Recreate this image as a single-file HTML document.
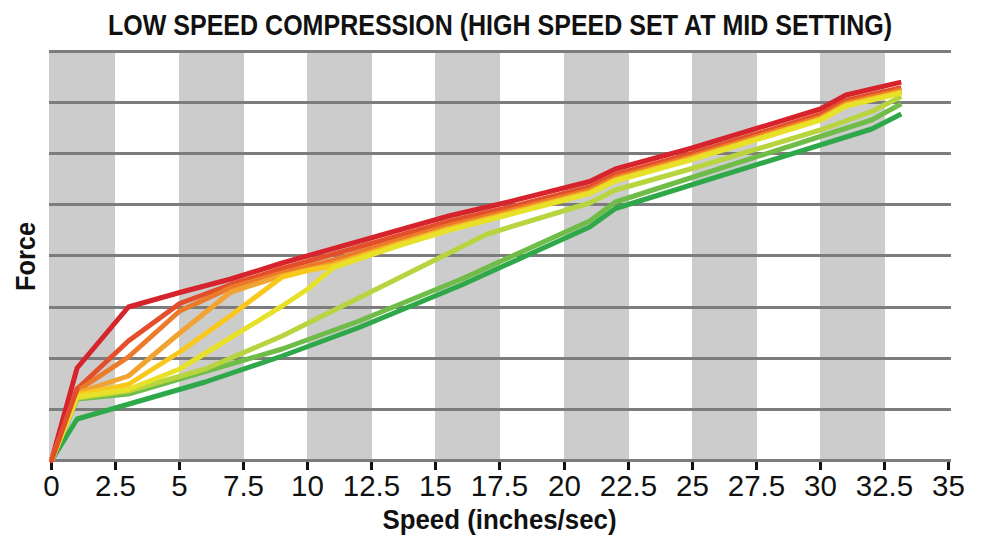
<!DOCTYPE html>
<html><head><meta charset="utf-8"><style>
html,body{margin:0;padding:0;background:#fff;}
svg{display:block;}
text{font-family:"Liberation Sans",sans-serif;fill:#111;}
.tk{font-size:29.5px;}
.ttl{font-size:30px;font-weight:bold;}
.ax{font-size:28px;font-weight:bold;}
</style></head><body>
<svg width="1000" height="540" viewBox="0 0 1000 540">
<rect width="1000" height="540" fill="#fff"/>
<rect x="49.0" y="52" width="66.0" height="408" fill="#cccccc"/>
<rect x="179.0" y="52" width="65.0" height="408" fill="#cccccc"/>
<rect x="307.0" y="52" width="65.0" height="408" fill="#cccccc"/>
<rect x="435.0" y="52" width="65.0" height="408" fill="#cccccc"/>
<rect x="564.0" y="52" width="65.0" height="408" fill="#cccccc"/>
<rect x="692.0" y="52" width="65.0" height="408" fill="#cccccc"/>
<rect x="820.0" y="52" width="65.0" height="408" fill="#cccccc"/>
<rect x="49" y="50.0" width="902" height="3" fill="#7c7c7c"/>
<rect x="49" y="101.0" width="902" height="3" fill="#7c7c7c"/>
<rect x="49" y="152.0" width="902" height="3" fill="#7c7c7c"/>
<rect x="49" y="203.0" width="902" height="3" fill="#7c7c7c"/>
<rect x="49" y="254.0" width="902" height="3" fill="#7c7c7c"/>
<rect x="49" y="306.0" width="902" height="3" fill="#7c7c7c"/>
<rect x="49" y="357.0" width="902" height="3" fill="#7c7c7c"/>
<rect x="49" y="408.0" width="902" height="3" fill="#7c7c7c"/>
<rect x="49" y="459.0" width="902" height="3" fill="#7c7c7c"/>
<rect x="50.0" y="462" width="3" height="8" fill="#111"/>
<rect x="114.0" y="462" width="3" height="8" fill="#111"/>
<rect x="178.0" y="462" width="3" height="8" fill="#111"/>
<rect x="242.0" y="462" width="3" height="8" fill="#111"/>
<rect x="306.0" y="462" width="3" height="8" fill="#111"/>
<rect x="370.0" y="462" width="3" height="8" fill="#111"/>
<rect x="434.0" y="462" width="3" height="8" fill="#111"/>
<rect x="498.0" y="462" width="3" height="8" fill="#111"/>
<rect x="563.0" y="462" width="3" height="8" fill="#111"/>
<rect x="627.0" y="462" width="3" height="8" fill="#111"/>
<rect x="691.0" y="462" width="3" height="8" fill="#111"/>
<rect x="755.0" y="462" width="3" height="8" fill="#111"/>
<rect x="819.0" y="462" width="3" height="8" fill="#111"/>
<rect x="883.0" y="462" width="3" height="8" fill="#111"/>
<rect x="947.0" y="462" width="3" height="8" fill="#111"/>
<path d="M51.5,460.5 L77.1,419.0 L205.3,382.0 L282.2,356.0 L359.1,327.5 L461.6,285.0 L589.7,227.0 L615.4,208.5 L871.7,129.0 L901.3,114.0" fill="none" stroke="#2fa84a" stroke-width="5" stroke-linejoin="round"/>
<path d="M51.5,460.5 L77.1,399.0 L128.4,394.0 L282.2,349.0 L359.1,321.0 L461.6,279.0 L589.7,221.0 L615.4,202.0 L871.7,120.0 L901.3,103.8" fill="none" stroke="#70bc48" stroke-width="5" stroke-linejoin="round"/>
<path d="M51.5,460.5 L77.1,398.0 L128.4,391.0 L205.3,369.0 L282.2,336.0 L487.2,234.0 L589.7,203.0 L615.4,190.0 L692.2,168.5 L820.4,130.0 L871.7,111.5 L901.3,96.5" fill="none" stroke="#b8d43f" stroke-width="5" stroke-linejoin="round"/>
<path d="M51.5,460.5 L77.1,368.0 L128.4,307.0 L179.7,292.5 L230.9,279.0 L282.2,263.0 L397.5,230.5 L448.8,216.0 L500.0,204.0 L589.7,181.5 L615.4,169.0 L692.2,148.0 L820.4,109.0 L846.0,95.0 L901.3,82.1" fill="none" stroke="#d7232b" stroke-width="5" stroke-linejoin="round"/>
<path d="M51.5,460.5 L77.1,389.0 L128.4,341.0 L179.7,303.5 L230.9,284.5 L282.2,268.5 L333.4,254.1 L359.1,246.8 L397.5,236.0 L448.8,221.5 L500.0,209.5 L589.7,187.0 L615.4,174.5 L692.2,153.5 L820.4,114.5 L846.0,100.5 L901.3,87.6" fill="none" stroke="#e34e2b" stroke-width="5" stroke-linejoin="round"/>
<path d="M51.5,460.5 L77.1,391.0 L128.4,357.0 L179.7,311.0 L230.9,287.4 L282.2,272.8 L333.4,260.1 L359.1,252.2 L397.5,240.5 L448.8,225.5 L500.0,212.9 L589.7,190.0 L615.4,177.4 L692.2,156.2 L820.4,117.1 L846.0,103.0 L901.3,90.0" fill="none" stroke="#eb7a2a" stroke-width="5" stroke-linejoin="round"/>
<path d="M51.5,460.5 L77.1,393.0 L128.4,376.0 L179.7,333.0 L230.9,292.0 L282.2,275.6 L333.4,264.2 L359.1,255.8 L397.5,243.6 L448.8,228.1 L500.0,215.2 L589.7,192.0 L615.4,179.4 L692.2,158.0 L820.4,118.8 L846.0,104.7 L901.3,91.7" fill="none" stroke="#f1a332" stroke-width="5" stroke-linejoin="round"/>
<path d="M51.5,460.5 L77.1,395.0 L128.4,384.5 L179.7,352.0 L230.9,315.5 L282.2,277.0 L307.8,270.5 L333.4,265.9 L359.1,257.4 L397.5,244.9 L448.8,229.3 L500.0,216.2 L589.7,192.9 L615.4,180.2 L692.2,158.8 L820.4,119.5 L846.0,105.5 L901.3,92.4" fill="none" stroke="#f8c91c" stroke-width="5" stroke-linejoin="round"/>
<path d="M51.5,460.5 L77.1,397.0 L128.4,389.5 L179.7,369.0 L230.9,337.5 L282.2,306.0 L307.8,289.0 L333.4,267.6 L359.1,258.8 L397.5,246.1 L448.8,230.3 L500.0,217.1 L589.7,193.7 L615.4,181.0 L692.2,159.5 L820.4,120.2 L846.0,106.1 L901.3,93.1" fill="none" stroke="#e8e12a" stroke-width="5" stroke-linejoin="round"/>
<path d="M51.5,460.5 L77.1,389.0" fill="none" stroke="#e34e2b" stroke-width="5" stroke-linecap="round"/>
<text x="51.50" y="495.5" text-anchor="middle" class="tk">0</text>
<text x="115.50" y="495.5" text-anchor="middle" class="tk">2.5</text>
<text x="179.50" y="495.5" text-anchor="middle" class="tk">5</text>
<text x="243.50" y="495.5" text-anchor="middle" class="tk">7.5</text>
<text x="307.50" y="495.5" text-anchor="middle" class="tk">10</text>
<text x="371.50" y="495.5" text-anchor="middle" class="tk">12.5</text>
<text x="435.50" y="495.5" text-anchor="middle" class="tk">15</text>
<text x="499.50" y="495.5" text-anchor="middle" class="tk">17.5</text>
<text x="564.50" y="495.5" text-anchor="middle" class="tk">20</text>
<text x="628.50" y="495.5" text-anchor="middle" class="tk">22.5</text>
<text x="692.50" y="495.5" text-anchor="middle" class="tk">25</text>
<text x="756.50" y="495.5" text-anchor="middle" class="tk">27.5</text>
<text x="820.50" y="495.5" text-anchor="middle" class="tk">30</text>
<text x="884.50" y="495.5" text-anchor="middle" class="tk">32.5</text>
<text x="948.50" y="495.5" text-anchor="middle" class="tk">35</text>

<text x="500" y="35.2" text-anchor="middle" class="ttl" textLength="784" lengthAdjust="spacingAndGlyphs">LOW SPEED COMPRESSION (HIGH SPEED SET AT MID SETTING)</text>
<text x="499.5" y="529" text-anchor="middle" class="ax" textLength="234" lengthAdjust="spacingAndGlyphs">Speed (inches/sec)</text>
<text transform="translate(35,256.5) rotate(-90)" x="0" y="0" text-anchor="middle" class="ax" textLength="69" lengthAdjust="spacingAndGlyphs">Force</text>
</svg>
</body></html>
